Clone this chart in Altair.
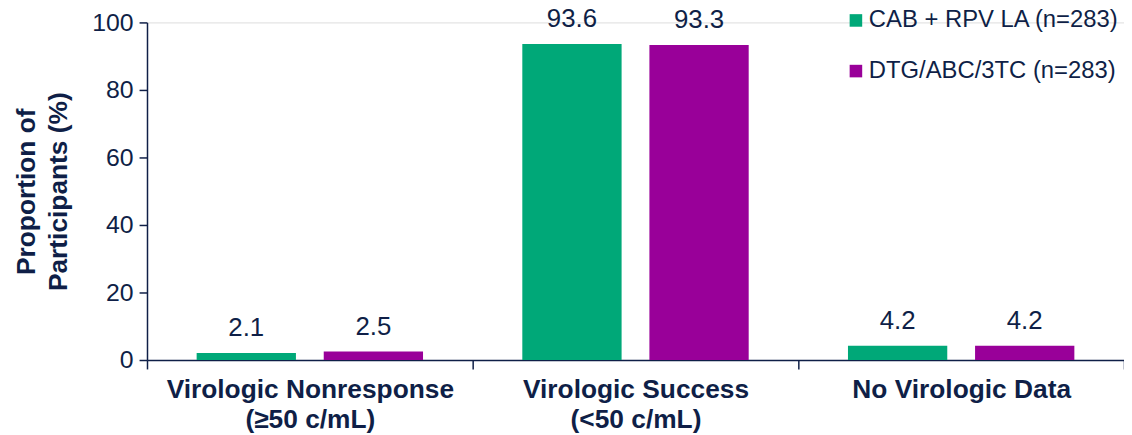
import altair as alt
import pandas as pd

categories = ["Virologic Nonresponse\n(≥50 c/mL)", "Virologic Success\n(<50 c/mL)", "No Virologic Data"]
series = ["CAB + RPV LA (n=283)", "DTG/ABC/3TC (n=283)"]
cab_values = [2.1, 93.6, 4.2]
dtg_values = [2.5, 93.3, 4.2]
colors = ["#00A878", "#990099"]
y_ticks = [0, 20, 40, 60, 80, 100]

rows = []
for i, c in enumerate(categories):
    rows.append({"cat": c, "series": series[0], "value": cab_values[i], "label": f"{cab_values[i]:.1f}"})
    rows.append({"cat": c, "series": series[1], "value": dtg_values[i], "label": f"{dtg_values[i]:.1f}"})
df = pd.DataFrame(rows)

navy = "#0F1F47"
font = "Liberation Sans"

x = alt.X("cat:N", sort=categories, title=None,
          scale=alt.Scale(paddingInner=0, paddingOuter=0),
          axis=alt.Axis(labelExpr="split(datum.label, '\\n')", labelAngle=0,
                        labelFontSize=26.5, labelFontWeight="bold", labelColor=navy,
                        labelFont=font, labelLineHeight=30, labelPadding=8, labelLimit=0,
                        tickBand="extent", tickSize=9, tickColor=navy, tickWidth=1.5,
                        domainColor=navy, domainWidth=1.5))
xo = alt.XOffset("series:N", sort=series,
                 scale=alt.Scale(paddingInner=0.21875, paddingOuter=0.3906))
y = alt.Y("value:Q", scale=alt.Scale(domain=[0, 100]),
          title=["Proportion of", "Participants (%)"],
          axis=alt.Axis(values=y_ticks, grid=False, labelFontSize=25, labelColor=navy,
                        labelFont=font, labelPadding=6, tickSize=8, tickColor=navy,
                        tickWidth=1.5, domainColor=navy, domainWidth=1.5,
                        titleFontSize=26.5, titleFontWeight="bold", titleColor=navy,
                        titleFont=font, titlePadding=19, titleLineHeight=33))

color = alt.Color("series:N", sort=series, scale=alt.Scale(domain=series, range=colors),
                  legend=alt.Legend(title=None, orient="none", legendX=702, legendY=-14,
                                    symbolType="square", symbolSize=160, symbolStrokeWidth=0,
                                    labelFontSize=24, labelColor=navy, labelFont=font,
                                    labelLimit=0, rowPadding=27, labelOffset=1))

bars = alt.Chart(df).mark_bar().encode(x=x, xOffset=xo, y=y, color=color)
text = alt.Chart(df).mark_text(dy=-17, baseline="alphabetic", fontSize=26, color=navy, font=font).encode(
    x=alt.X("cat:N", sort=categories), xOffset=xo, y="value:Q", text="label:N")

chart = (bars + text).properties(
    width=984, height=340,
    autosize=alt.AutoSizeParams(type="none"),
    padding={"left": 140, "top": 13, "right": 0, "bottom": 74},
).configure_view(stroke=None).configure(background="white")

chart.save("out.html", embed_options={"renderer": "svg", "actions": False})
